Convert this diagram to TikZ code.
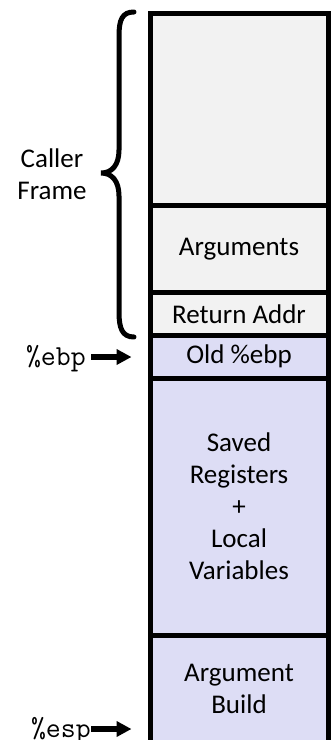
\documentclass[tikz,border=0pt]{standalone}
\usepackage{fontspec}
\setmainfont{Carlito}
\usetikzlibrary{arrows.meta}
\definecolor{callergray}{HTML}{F2F2F2}
\definecolor{calleeblue}{HTML}{DDDDF5}

\begin{document}
\begin{tikzpicture}[x=1pt,y=-1pt,
	every node/.style={font=\fontsize{27}{32}\selectfont},
	cell/.style={draw,line width=5pt,minimum width=178pt,inner sep=0,align=center},
	reg/.style={font=\fontsize{29}{32}\ttfamily,inner sep=0},
	ptr/.style={line width=5.5pt,-{Triangle[length=15pt,width=15pt]}}]
	\useasboundingbox (0,0) rectangle (331,740);
	\node[cell,fill=callergray,minimum height=192pt] (top) at (239,109) {};
	\node[cell,fill=callergray,minimum height=87.5pt] (args) at (239,248.75) {Arguments};
	\node[cell,fill=callergray,minimum height=42.5pt] (ret) at (239,313.75) {Return Addr};
	\node[cell,fill=calleeblue,minimum height=43pt] (old) at (239,356.5) {Old \%ebp};
	\node[cell,fill=calleeblue,minimum height=257pt] (saved) at (239,506.5) {Saved\\Registers\\+\\Local\\Variables};
	\node[cell,fill=calleeblue,minimum height=108pt] (build) at (239,689) {Argument\\Build};
	\node[align=center] (caller) at (52,174) {Caller\\Frame};
	\draw[line width=5pt,line cap=round] (134,12) .. controls (122,12) and (119,20) .. (119,36) -- (119,150) .. controls (119,165) and (112,173) .. (101,173) .. controls (112,173) and (119,181) .. (119,196) -- (119,312) .. controls (119,328) and (122,337) .. (134,337);
	\node[reg,anchor=base east] (ebp) at (86,365) {\%ebp};
	\node[reg,anchor=base east] (esp) at (91,737) {\%esp};
	\coordinate (ebp tip) at (131.5,357);
	\coordinate (esp tip) at (131.5,729);
	\draw[ptr] (ebp.east |- ebp tip) ++(5,0) -- (ebp tip);
	\draw[ptr] (esp.east |- esp tip) -- (esp tip);
\end{tikzpicture}
\end{document}
